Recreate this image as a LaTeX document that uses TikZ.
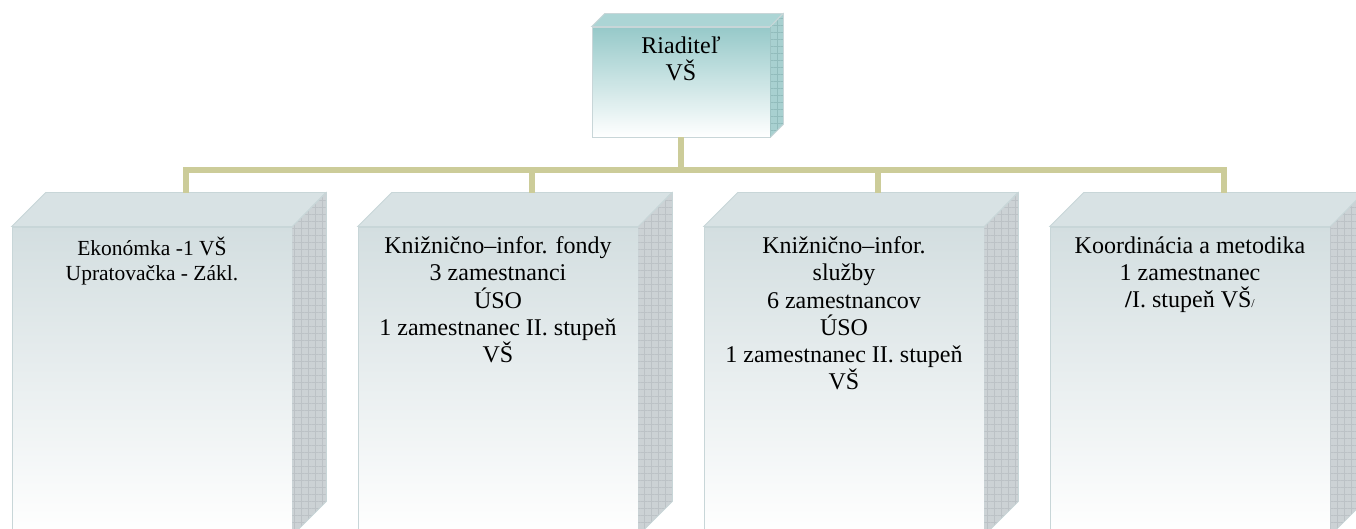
\documentclass[tikz,border=0pt]{standalone}
\usepackage{fontspec}
\setmainfont{Liberation Serif}
\usetikzlibrary{patterns.meta}
\definecolor{linkc}{RGB}{204,204,153}
\definecolor{facec}{RGB}{211,222,224}
\definecolor{topc}{RGB}{216,226,228}
\definecolor{sidec}{RGB}{204,210,213}
\definecolor{gridc}{RGB}{188,194,198}
\definecolor{edgec}{RGB}{200,214,216}
\definecolor{bossc}{RGB}{150,201,201}
\definecolor{bosstop}{RGB}{172,213,213}
\definecolor{bossside}{RGB}{168,208,208}
\definecolor{bossgrid}{RGB}{146,188,188}

\begin{document}
\begin{tikzpicture}[x=1pt, y=1pt,
			front/.style={
				rectangle,
				draw=edgec,
				line width=0.8pt,
				top color=facec,
				bottom color=white,
				inner sep=0pt,
				minimum width=280pt,
				minimum height=308pt},
			bossfront/.style={
				front,
				top color=bossc,
				minimum width=178pt,
				minimum height=110pt},
			grid/.style={
				postaction={pattern={Hatch[angle=0, distance=7pt, line width=0.4pt]},
				pattern color=#1}},
			link/.style={draw=linkc, line width=6pt},
			caption/.style={
				align=center,
				anchor=north,
				inner sep=0pt,
				font=\fontsize{24}{27.2}\selectfont}]
			\useasboundingbox (0, 0) rectangle (1356, 529);
			% boxes
			\foreach \i/\cx in {1/152, 2/498, 3/844, 4/1190}
				\node[front] (d\i) at (\cx, 148) {};
			\foreach \i in {1, ..., 4}
			{
				\fill[topc, draw=edgec, line width=0.8pt] (d\i.north west) -- ++(34, 34) -- ++(280, 0) -- (d\i.north east) -- cycle;
				\fill[sidec, grid=gridc] (d\i.north east) -- ++(34, 34) -- ([shift={(34, 34)}]d\i.south east) -- (d\i.south east) -- cycle;
				\draw[edgec, line width=0.8pt] (d\i.north east) -- ++(34, 34) -- ([shift={(34, 34)}]d\i.south east) -- (d\i.south east);
				\coordinate (t\i) at ([shift={(34, 34)}]d\i.north);
			}
			\node[bossfront] (boss) at (681, 447) {};
			\fill[bosstop, draw=edgec, line width=0.8pt] (boss.north west) -- ++(13, 13) -- ++(178, 0) -- (boss.north east) -- cycle;
			\fill[bossside, grid=bossgrid] (boss.north east) -- ++(13, 13) -- ([shift={(13, 13)}]boss.south east) -- (boss.south east) -- cycle;
			\draw[edgec, line width=0.8pt] (boss.north east) -- ++(13, 13) -- ([shift={(13, 13)}]boss.south east) -- (boss.south east);
			% links
			\draw[link] (boss.south) -- ++(0, -33) coordinate (bar);
			\foreach \i in {1, ..., 4}
				\draw[link] (bar) -| (t\i);
			% texts
			\node[caption] (bosstxt) at ([yshift=-10pt]boss.north) {Riaditeľ\\VŠ};
			\node[caption, font=\fontsize{21.5}{25}\selectfont] (d1txt) at ([yshift=-10pt]d1.north) {Ekonómka -1 VŠ\\Upratovačka - Zákl.};
			\node[caption] (d2txt) at ([yshift=-10pt]d2.north) {Knižnično–infor. fondy\\3 zamestnanci\\ÚSO\\1 zamestnanec II. stupeň\\VŠ};
			\node[caption] (d3txt) at ([yshift=-10pt]d3.north) {Knižnično–infor.\\služby\\6 zamestnancov\\ÚSO\\1 zamestnanec II. stupeň\\VŠ};
			\node[caption] (d4txt) at ([yshift=-10pt]d4.north) {Koordinácia a metodika\\1 zamestnanec\\\textbf{/}I. stupeň VŠ{\fontsize{12}{12}\selectfont/}};
\end{tikzpicture}
\end{document}
